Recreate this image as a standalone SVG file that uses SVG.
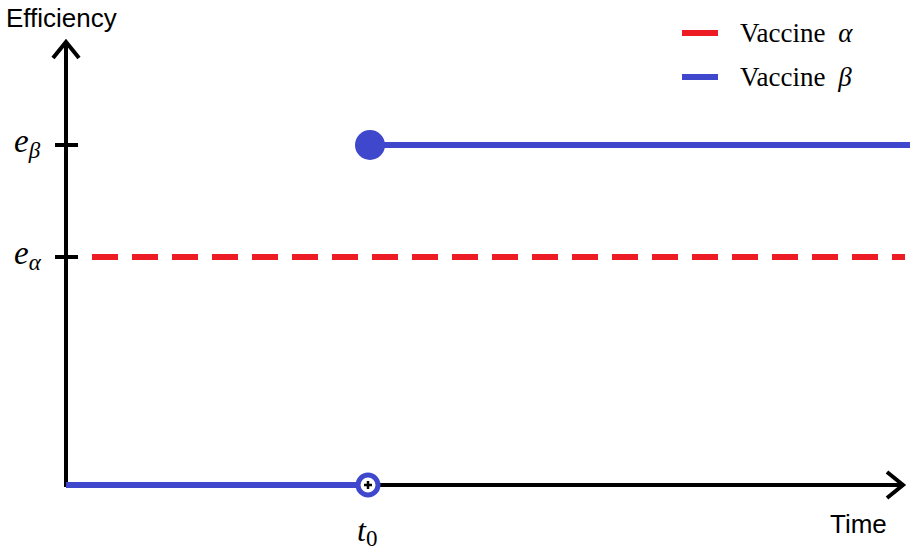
<svg xmlns="http://www.w3.org/2000/svg" width="919" height="559" viewBox="0 0 919 559">
<style>
.t{font-family:"Liberation Serif",serif;font-size:27px;fill:#000}
.s{font-family:"Liberation Sans",sans-serif;font-size:26px;fill:#000}
.ax{stroke:#000;stroke-width:4;fill:none}
.b{stroke:#3f48cc;stroke-width:6;fill:none}
.r{stroke:#ed1c24;stroke-width:6;fill:none;stroke-dasharray:26 14}
</style>
<rect width="919" height="559" fill="#fff"/>
<g id="axes">
<path class="ax" d="M66 487V42M53 58L66 42L79 58"/>
<path class="ax" d="M64 485H902M887 472L903 485L887 498"/>
<path class="ax" d="M55 145H78M55 257H78"/>
</g>
<g id="labels">
<text class="s" x="6" y="27">Efficiency</text>
<text class="s" x="830" y="533">Time</text>
<text class="t" x="14" y="152" font-size="33" font-style="italic" style="font-size:33px">e<tspan style="font-size:23px" dy="6">β</tspan></text>
<text class="t" x="14" y="264" font-style="italic" style="font-size:33px">e<tspan style="font-size:23px" dy="6">α</tspan></text>
<text class="t" x="357" y="541" font-style="italic" style="font-size:32px">t<tspan style="font-size:23px" dy="5" font-style="normal">0</tspan></text>
</g>
<g id="series">
<path class="r" d="M92 257H905"/>
<path class="b" d="M66 485H358M370 145H910"/>
<circle cx="370" cy="145" r="15" fill="#3f48cc"/>
<circle cx="368" cy="485" r="10" fill="#fff" stroke="#3f48cc" stroke-width="5"/>
<path d="M364 485H372M368 481V489" stroke="#000" stroke-width="2.5"/>
</g>
<g id="legend">
<path class="b" d="M682 33H718" style="stroke:#ed1c24"/>
<text class="t" x="740" y="42">Vaccine <tspan font-style="italic" dx="6">α</tspan></text>
<path class="b" d="M682 77H718"/>
<text class="t" x="740" y="86">Vaccine <tspan font-style="italic" dx="6">β</tspan></text>
</g>
</svg>
